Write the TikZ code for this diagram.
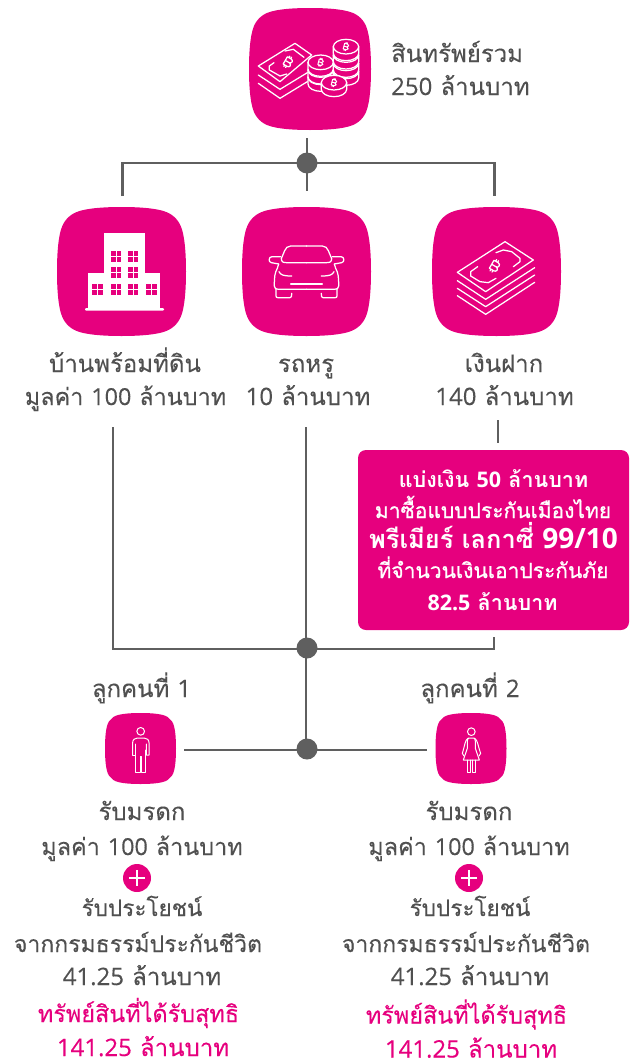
\documentclass[tikz,border=0pt]{standalone}
\usepackage{fontspec}
\setmainfont{Open Sans}
\newfontfamily\thfont[Script=Thai,FakeBold=0.2]{Loma}
\newfontfamily\thbold[Script=Thai]{Loma}
\newfontfamily\thsemi[Script=Thai,FakeBold=0.8]{Loma}
\newfontfamily\dgfont[FakeBold=0.25]{Open Sans}
\newfontfamily\dgbold{Open Sans}
\newcommand{\dg}[1]{{\dgfont #1}}
\newcommand{\dgb}[1]{{\dgbold\bfseries #1}}
\definecolor{pinkm}{HTML}{E6007E}
\definecolor{lineg}{HTML}{5F5F5F}
\definecolor{textg}{HTML}{505050}
\newcommand{\squircle}[3]{%
 \fill[pinkm,shift={(#1,#2)},scale=#3]
 (0,-1) .. controls (-.35,-1) and (-.64,-.97) .. (-.76,-.89) .. controls (-.82,-.85) and (-.85,-.82) .. (-.89,-.76)
 .. controls (-.97,-.64) and (-1,-.35) .. (-1,0) .. controls (-1,.35) and (-.97,.64) .. (-.89,.76)
 .. controls (-.85,.82) and (-.82,.85) .. (-.76,.89) .. controls (-.64,.97) and (-.35,1) .. (0,1)
 .. controls (.35,1) and (.64,.97) .. (.76,.89) .. controls (.82,.85) and (.85,.82) .. (.89,.76)
 .. controls (.97,.64) and (1,.35) .. (1,0) .. controls (1,-.35) and (.97,-.64) .. (.89,-.76)
 .. controls (.85,-.82) and (.82,-.85) .. (.76,-.89) .. controls (.64,-.97) and (.35,-1) .. (0,-1) -- cycle;}
\newcommand{\bsign}{%
 (-9,-12) -- (-9,12) -- (5,12) .. controls (13,12) and (13,0) .. (4,0) .. controls (12,0) and (12,-12) .. (4,-12) -- cycle
 (-9,0) -- (4,0) (-4,-12) -- (-4,-17) (2,-12) -- (2,-17) (-4,12) -- (-4,17) (2,12) -- (2,17)}
\tikzset{
 x=1pt,y=-1pt,
 conn/.style={draw=lineg,line width=2.3pt},
 dot/.style={circle,fill=lineg,inner sep=0pt,minimum size=21pt},
 gt/.style={text=textg,font=\thfont\fontsize{24}{24}\selectfont,anchor=base,inner sep=0pt},
 gs/.style={gt,font=\thfont\fontsize{23.4}{24}\selectfont},
 pt/.style={gs,text=pinkm},
 wt/.style={gt,text=white,font=\thbold\bfseries\fontsize{21.5}{22}\selectfont},
 wn/.style={gt,text=white,font=\thsemi\fontsize{21}{21}\selectfont},
 ic/.style={draw=white,line width=1.25pt,line join=round,line cap=round},
}
\begin{document}
\begin{tikzpicture}
\useasboundingbox (0,0) rectangle (632,1060);
% squircles
\squircle{310}{69}{61}
\squircle{121.5}{271.5}{64.5}
\squircle{306.5}{271.5}{64.5}
\squircle{496.5}{271.5}{64.5}
\squircle{140.5}{748.5}{35.5}
\squircle{471}{748.5}{35.5}
% connector points
\coordinate (d1) at (307,163);
\coordinate (d2) at (307,648);
\coordinate (d3) at (307,749);
\coordinate (t0) at (307,138);
\coordinate (t1) at (307,191);
\coordinate (tl) at (122.5,196);
\coordinate (tr) at (494.5,196);
\coordinate (tlc) at (122.5,163);
\coordinate (trc) at (494.5,163);
\coordinate (m0) at (306,427);
\coordinate (m1) at (306,749);
\coordinate (ml) at (113,427);
\coordinate (mlc) at (113,649);
\coordinate (mrc) at (494,649);
\coordinate (mr) at (494,637);
\coordinate (q0) at (498,420);
\coordinate (q1) at (498,443);
\coordinate (c1) at (184,750);
\coordinate (c2) at (427,750);
\draw[conn] (t0) -- (d1) -- (t1);
\draw[conn] (tl) -- (tlc) -- (trc) -- (tr);
\draw[conn] (m0) -- (m1);
\draw[conn] (ml) -- (mlc) -- (mrc) -- (mr);
\draw[conn] (q0) -- (q1);
\draw[conn] (c1) -- (c2);
\node[dot] (n1) at (d1) {};
\node[dot] (n2) at (d2) {};
\node[dot] (n3) at (d3) {};
% box
\node[fill=pinkm,rounded corners=8pt,minimum width=271pt,minimum height=180pt,inner sep=0pt] (box) at (493.5,540) {};
% top icon: notes and coins
\begin{scope}[shift={(230,0)},scale=1/3]
\draw[ic] (85,198) -- (195,130) -- (245,165) -- (150,245) -- cycle;
\draw[ic] (85,225) -- (150,268) -- (232,218);
\draw[ic] (85,250) -- (150,295) -- (232,245);
\draw[ic] (132,188) -- (118,198) -- (118,210) -- (150,228) -- (170,222);
\draw[ic] (165,153) -- (190,148) -- (222,172);
\begin{scope}[shift={(174,186)},rotate=-30,scale=1.05]\draw[ic] \bsign;\end{scope}
\foreach \cx/\cy in {348/214,348/190,348/165,348/140,272/232,272/210,272/187,312/248}{
 \fill[pinkm] (\cx-38,\cy) -- (\cx-38,\cy+20) arc[x radius=38,y radius=22,start angle=180,end angle=0] -- (\cx+38,\cy) arc[x radius=38,y radius=22,start angle=0,end angle=-180];
 \draw[ic] (\cx-38,\cy) -- (\cx-38,\cy+20) arc[x radius=38,y radius=22,start angle=180,end angle=0] -- (\cx+38,\cy);
 \draw[ic] (\cx,\cy) ellipse[x radius=38,y radius=22];
 \begin{scope}[shift={(\cx,\cy)},rotate=-15,scale=.72]\draw[ic,line width=1pt] \bsign;\end{scope}
}
\end{scope}
% building
\begin{scope}[shift={(40,200)},scale=1/3]
\fill[white] (192,100) rectangle (314,220);
\fill[white] (145,218) rectangle (361,326);
\fill[white,rounded corners=1pt] (135,324) rectangle (372,332);
\foreach \wx/\wy in {212/152,263/152,212/202,263/202,156/251,212/251,263/251,318/251}{
 \fill[pinkm] (\wx,\wy) rectangle +(32,33);
 \fill[white] (\wx+14.5,\wy) rectangle +(3,33);
 \fill[white] (\wx,\wy+15) rectangle +(32,3);
}
\end{scope}
% car
\foreach \s in {1,-1}{
\begin{scope}[shift={(306.5,0)},xscale=\s,shift={(-306.5,0)}]
\begin{scope}[shift={(40,200)},scale=1/3]
\draw[ic] (800,138) -- (752,138) .. controls (742,138) and (738,144) .. (734,152) -- (724,176) .. controls (724,186) and (730,188) .. (740,188) -- (800,188);
\draw[ic] (722,170) -- (696,170) .. controls (686,170) and (684,186) .. (694,188) -- (716,192);
\draw[ic] (716,192) -- (712,205) .. controls (704,220) and (703,230) .. (703,258) .. controls (703,266) and (708,268) .. (716,268) -- (800,268);
\draw[ic] (708,268) -- (708,288) .. controls (708,292) and (710,293) .. (714,293) -- (750,293) .. controls (754,293) and (755,290) .. (755,280);
\draw[ic] (717,215) .. controls (722,225) and (730,228) .. (755,228);
\draw[ic] (752,252) -- (800,252);
\end{scope}
\end{scope}}
% stack of notes
\begin{scope}[shift={(340,200)},scale=1/3]
\draw[ic] (352,217) -- (495,125) -- (580,180) -- (437,275) -- cycle;
\draw[ic] (352,242) -- (437,298) -- (584,203);
\draw[ic] (352,265) -- (437,320) -- (584,225);
\draw[ic] (352,287) -- (437,343) -- (584,247);
\draw[ic] (468,158) -- (490,150) -- (515,155) -- (540,175) -- (540,185) -- (520,200);
\draw[ic] (413,200) -- (392,215) -- (392,228) -- (420,245) -- (445,248) -- (468,235);
\begin{scope}[shift={(464,198)},rotate=-30,scale=1.15]\draw[ic] \bsign;\end{scope}
\end{scope}
% persons
\begin{scope}[shift={(90,670)},scale=1/3]
\draw[ic,line width=1pt] (152,184) circle (11.5);
\draw[ic,line width=1pt] (128,255) -- (128,218) .. controls (128,208) and (135,205) .. (142,204) -- (162,204) .. controls (170,205) and (177,208) .. (177,218) -- (177,255) -- (169,255) -- (169,222);
\draw[ic,line width=1pt] (128,255) -- (136,255) -- (136,222);
\draw[ic,line width=1pt] (137,240) -- (137,308) -- (150,308) -- (150,258) -- (155,258) -- (155,308) -- (167,308) -- (167,240);
\draw[ic,line width=1pt] (1144,185) circle (11.5);
\draw[ic,line width=1pt] (1132,235) .. controls (1132,220) and (1130,208) .. (1136,204) -- (1152,204) .. controls (1158,208) and (1156,220) .. (1156,235) -- (1168,270) -- (1120,270) -- cycle;
\draw[ic,line width=1pt] (1134,205) .. controls (1125,210) and (1125,225) .. (1117,250) -- (1122,258);
\draw[ic,line width=1pt] (1154,205) .. controls (1163,210) and (1163,225) .. (1172,250) -- (1167,258);
\draw[ic,line width=1pt] (1133,270) -- (1133,308) -- (1141,308) -- (1141,270) (1148,270) -- (1148,308) -- (1156,308) -- (1156,270);
\end{scope}
% plus signs
\foreach \nm/\px in {plusa/137,plusb/469}{
 \node[circle,fill=pinkm,minimum size=28pt,inner sep=0pt] (\nm) at (\px,878) {};
 \fill[white] (\px-8,876.6) rectangle (\px+8,879.4);
 \fill[white] (\px-1.4,870) rectangle (\px+1.4,886);
}
% texts
\node[gt,anchor=base west] (a1) at (391,62) {สินทรัพย์รวม};
\node[gt,anchor=base west] (a2) at (391,95) {\dg{250} ล้านบาท};
\node[gt] (b1) at (125,372) {บ้านพร้อมที่ดิน};
\node[gs] (b2) at (125.5,405) {มูลค่า \dg{100} ล้านบาท};
\node[gt] (c1t) at (306,372) {รถหรู};
\node[gt] (c2t) at (308,405) {\dg{10} ล้านบาท};
\node[gt] (e1) at (504,372) {เงินฝาก};
\node[gt] (e2) at (504.5,405) {\dg{140} ล้านบาท};
\node[wt] (f1) at (493.5,487) {แบ่งเงิน \dgb{50} ล้านบาท};
\node[wn] (f2) at (493,518) {มาซื้อแบบประกันเมืองไทย};
\node[wt,font=\thbold\bfseries\fontsize{25.4}{27}\selectfont] (f3) at (493.5,548) {พรีเมียร์ เลกาซี่ \dgb{\fontsize{28}{28}\selectfont 99/10}};
\node[wn] (f4) at (493,578) {ที่จำนวนเงินเอาประกันภัย};
\node[wt] (f5) at (492.5,610) {\dgb{82.5} ล้านบาท};
\node[gt] (g1) at (141.5,697) {ลูกคนที่ \dg{1}};
\node[gt] (g2) at (470,697) {ลูกคนที่ \dg{2}};
\foreach \kk/\xa/\xb/\yp in {l/142/138/0,r/469/466/1.5}{
\node[gt] (h1\kk) at (\xa,820) {รับมรดก};
\node[gs] (h2\kk) at (\xa,855) {มูลค่า \dg{100} ล้านบาท};
\node[gt,font=\thfont\fontsize{22.5}{23}\selectfont] (h3\kk) at (\xb+4,916) {รับประโยชน์};
\node[gt,font=\thfont\fontsize{23}{23}\selectfont] (h4\kk) at (\xb,952) {จากกรมธรรม์ประกันชีวิต};
\node[gt] (h5\kk) at (\xb+4,985) {\dg{41.25} ล้านบาท};
\node[pt] (h6\kk) at (\xb+.5,1022+\yp) {ทรัพย์สินที่ได้รับสุทธิ};
\node[pt,font=\thfont\fontsize{24}{24}\selectfont] (h7\kk) at (\xb+5,1056+\yp) {\dg{141.25} ล้านบาท};
}
\end{tikzpicture}
\end{document}
